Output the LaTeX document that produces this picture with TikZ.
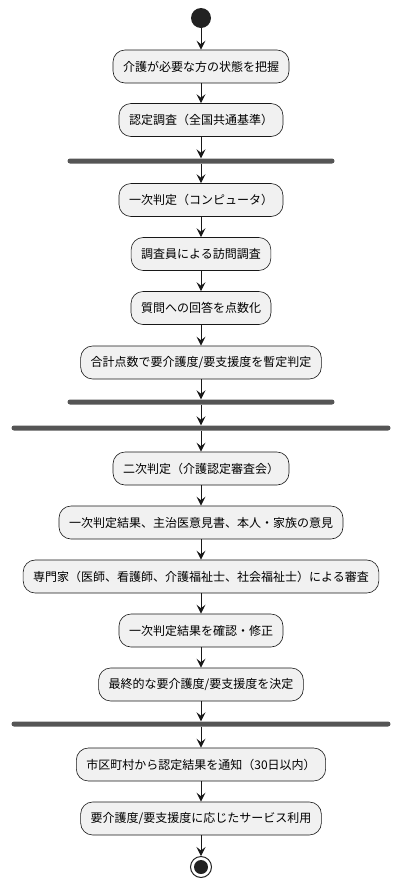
\documentclass[tikz,border=0pt]{standalone}
\usepackage{fontspec}
\setmainfont{Noto Sans CJK JP}
\usetikzlibrary{arrows.meta}
\usepackage{xcolor}
\definecolor{actfill}{HTML}{F1F1F1}
\definecolor{actline}{HTML}{181818}
\definecolor{barfill}{HTML}{555555}
\definecolor{dot}{HTML}{222222}

\begin{document}
\begin{tikzpicture}[x=1pt,y=-1pt,
  act/.style={draw=actline,fill=actfill,rounded corners=12pt,minimum height=33pt,inner xsep=10pt,line width=0.6pt,font=\fontsize{12}{14}\selectfont},
  bar/.style={fill=barfill,rounded corners=2.5pt,minimum height=5pt,inner sep=0pt},
  flow/.style={-{Stealth[length=9pt,width=9pt,inset=3.5pt]},line width=0.9pt,actline}]
  \useasboundingbox (0,0) rectangle (401,887);
  % Start
  \node[circle,fill=dot,minimum size=20pt,inner sep=0pt] (start) at (201,18) {};
  % Survey
  \node[act] (grasp) at (201,66.5) {介護が必要な方の状態を把握};
  \node[act] (survey) at (201,120) {認定調査（全国共通基準）};
  \node[bar,minimum width=267pt] (fork1) at (201,161) {};
  % First judgement
  \node[act] (first) at (201,200) {一次判定（コンピュータ）};
  \node[act] (visit) at (201,254) {調査員による訪問調査};
  \node[act] (score) at (201,308) {質問への回答を点数化};
  \node[act] (temp) at (201,362.5) {合計点数で要介護度/要支援度を暫定判定};
  \node[bar,minimum width=267pt] (join1) at (201,402) {};
  \node[bar,minimum width=379pt] (fork2) at (201,428) {};
  % Second judgement
  \node[act] (second) at (201,468.5) {二次判定（介護認定審査会）};
  \node[act] (docs) at (201,522.5) {一次判定結果、主治医意見書、本人・家族の意見};
  \node[act] (review) at (201,576.5) {専門家（医師、看護師、介護福祉士、社会福祉士）による審査};
  \node[act] (check) at (201,630.5) {一次判定結果を確認・修正};
  \node[act] (decide) at (201,684.5) {最終的な要介護度/要支援度を決定};
  \node[bar,minimum width=379pt] (join2) at (201,724) {};
  % Notice
  \node[act] (notice) at (201,764.5) {市区町村から認定結果を通知（30日以内）};
  \node[act] (use) at (201,818.5) {要介護度/要支援度に応じたサービス利用};
  % End
  \node[circle,draw=dot,line width=1pt,minimum size=21pt,inner sep=0pt] (stop) at (201,867) {};
  \fill[dot] (stop.center) circle (7pt);
  % Arrows
  \foreach \a/\b in {start/grasp,grasp/survey,survey/fork1,fork1/first,first/visit,visit/score,score/temp,temp/join1,join1/fork2,fork2/second,second/docs,docs/review,review/check,check/decide,decide/join2,join2/notice,notice/use,use/stop}
    \draw[flow] (\a) -- (\b);
\end{tikzpicture}
\end{document}
